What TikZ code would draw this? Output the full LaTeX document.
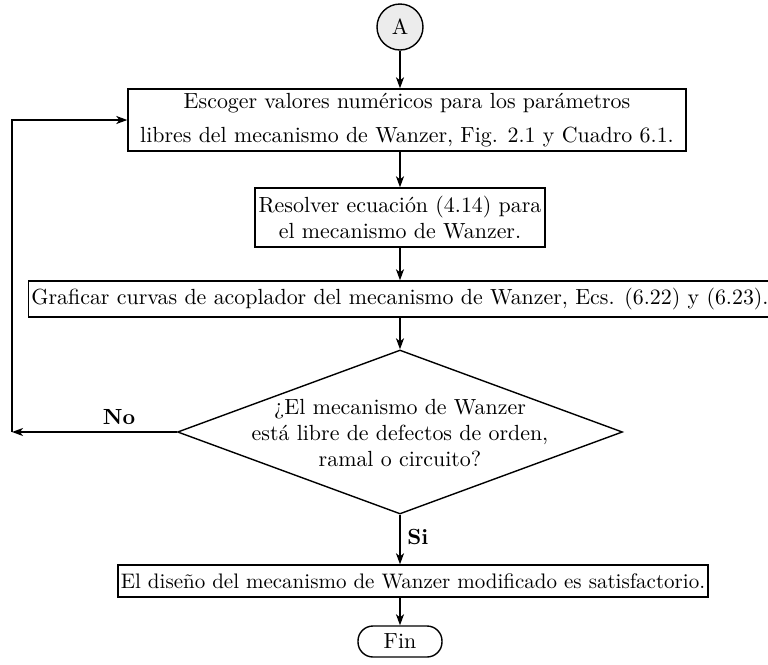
\documentclass[tikz,border=0pt]{standalone}
\usetikzlibrary{shapes.geometric,arrows.meta}
\begin{document}
\begin{tikzpicture}[x=0.5pt,y=-0.5pt,
  line width=0.7pt,
  every node/.style={font=\fontsize{10.95pt}{13.2pt}\selectfont},
  box/.style={draw, rectangle, align=center, inner sep=1.5pt},
  arr/.style={-{Stealth[length=5.5pt,width=4pt,inset=1.5pt]}},
  dec/.style={draw, diamond, inner sep=0pt, minimum width=222.5pt, minimum height=82pt},
  lbl/.style={font=\fontsize{10.95pt}{13.2pt}\selectfont\bfseries}]
\useasboundingbox (0,0) rectangle (768,665);
\node[draw, circle, fill=gray!15, minimum size=23pt, inner sep=0pt] (A) at (400,27) {A};
\node[box, minimum width=279pt, minimum height=31pt] (b1) at (407,120)
  {Escoger valores numéricos para los parámetros\\[3.5pt]libres del mecanismo de Wanzer, Fig. 2.1 y Cuadro 6.1.};
\node[box, minimum width=145pt, minimum height=29.5pt] (b2) at (400,217.5)
  {Resolver ecuación (4.14) para\\el mecanismo de Wanzer.};
\node[box, minimum width=370pt, minimum height=18pt] (b3) at (400,299)
  {Graficar curvas de acoplador del mecanismo de Wanzer, Ecs. (6.22) y (6.23).};
\node[dec] (d) at (400,432) {};
\node[align=center, inner sep=0pt] (dt) at (400,433)
  {¿El mecanismo de Wanzer\\está libre de defectos de orden,\\ramal o circuito?};
\node[box, minimum width=295pt, minimum height=16pt, font=\fontsize{10.5pt}{13pt}\selectfont] (b4) at (413,581)
  {El diseño del mecanismo de Wanzer modificado es satisfactorio.};
\node[draw, rectangle, rounded corners=7.5pt, minimum width=42pt, minimum height=15.5pt, inner sep=1pt] (fin) at (400,641.5) {Fin};
\coordinate (fb) at (12,432);
\draw[arr] (A) -- (A |- b1.north);
\draw[arr] (A |- b1.south) -- (b2);
\draw[arr] (b2) -- (b3);
\draw[arr] (b3.south -| d.north) -- (d);
\draw[arr] (d.south) -- (d.south |- b4.north) node[lbl, pos=0.45, right] {Si};
\draw[arr] (d.south |- b4.south) -- (fin);
\draw[arr] (d.west) -- (fb) node[lbl, pos=0.35, above] {No};
\draw[arr] (fb) |- (b1.west);
\end{tikzpicture}
\end{document}
